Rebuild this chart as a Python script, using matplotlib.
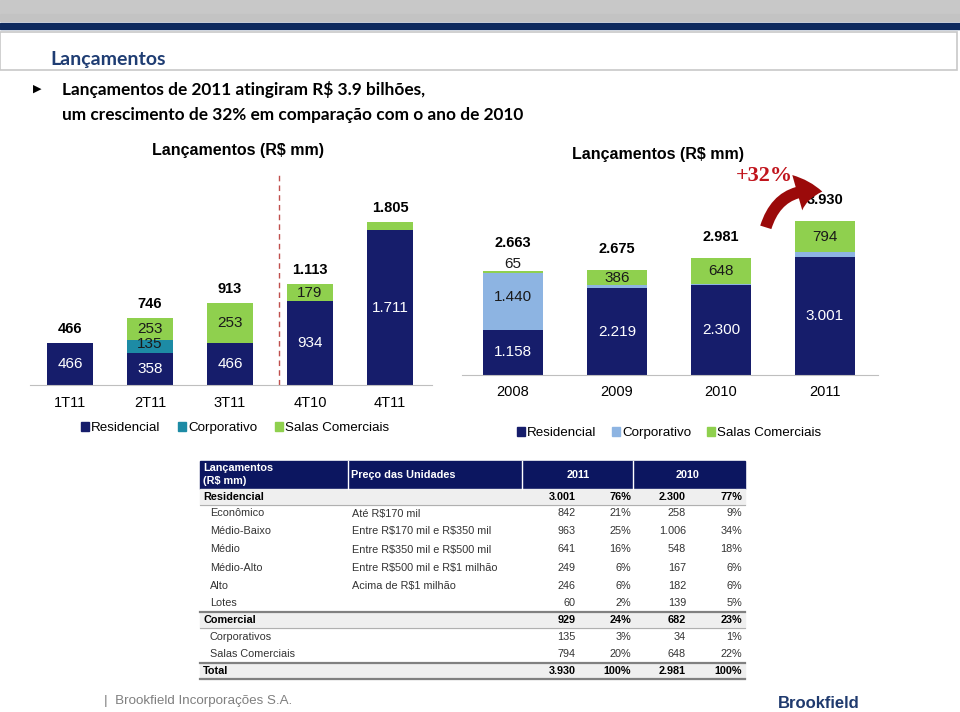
import matplotlib
matplotlib.use("Agg")
import matplotlib.pyplot as plt
from matplotlib.patches import Rectangle, Patch, FancyArrowPatch
from matplotlib.lines import Line2D

# ---- data ----
q_cats = ["1T11", "2T11", "3T11", "4T10", "4T11"]
q_res = [466, 358, 466, 934, 1711]
q_corp = [0, 135, 0, 0, 0]
q_salas = [0, 253, 447, 179, 94]          # bar heights as drawn
q_salas_lbl = ["", "253", "253", "179", ""]  # labels as printed
q_total = [466, 746, 913, 1113, 1805]

y_cats = ["2008", "2009", "2010", "2011"]
y_res = [1158, 2219, 2300, 3001]
y_corp = [1440, 70, 33, 135]
y_salas = [65, 386, 648, 794]
y_total = [2663, 2675, 2981, 3930]

tab_rows = ["Residencial", "Econômico", "Médio-Baixo", "Médio", "Médio-Alto", "Alto",
            "Lotes", "Comercial", "Corporativos", "Salas Comerciais", "Total"]
tab_price = ["", "Até R$170 mil", "Entre R$170 mil e R$350 mil", "Entre R$350 mil e R$500 mil",
             "Entre R$500 mil e R$1 milhão", "Acima de R$1 milhão", "", "", "", "", ""]
tab_v11 = ["3.001", "842", "963", "641", "249", "246", "60", "929", "135", "794", "3.930"]
tab_p11 = ["76%", "21%", "25%", "16%", "6%", "6%", "2%", "24%", "3%", "20%", "100%"]
tab_v10 = ["2.300", "258", "1.006", "548", "167", "182", "139", "682", "34", "648", "2.981"]
tab_p10 = ["77%", "9%", "34%", "18%", "6%", "6%", "5%", "23%", "1%", "22%", "100%"]
tab_bold = [True, False, False, False, False, False, False, True, False, False, True]

NAVY = "#161d6b"
TEAL = "#1d8ba5"
LBLUE = "#8db4e2"
GREEN = "#8fd04e"
SANS = "Liberation Sans"

W, H = 960, 712
fig = plt.figure(figsize=(9.6, 7.12), dpi=100)


def fx(x):
    return x / W


def fy(y):
    return 1 - y / H


def fmt(v):
    return f"{v:,}".replace(",", ".")


# ---- slide header ----
fig.add_artist(Rectangle((0, fy(13)), 1, 13 / H, color="#c8c8c8", transform=fig.transFigure))
fig.add_artist(Rectangle((0, fy(21)), 1, 7 / H, color="#c3c3c3", transform=fig.transFigure))
fig.add_artist(Rectangle((0, fy(29)), 1, 6 / H, color="#0e2a5e", transform=fig.transFigure))
fig.add_artist(Rectangle((0, fy(70)), fx(957), 38 / H, fill=False, ec="#c8c8c8", lw=1.2,
                         transform=fig.transFigure))
fig.text(fx(50), fy(59), "Lançamentos", fontsize=14, fontweight="bold", color="#1f3d73",
         family="Lato", va="center")
fig.text(fx(33), fy(89), "\u25B6", fontsize=8, color="black", va="center", family="DejaVu Sans")
fig.text(fx(62), fy(89), "Lançamentos de 2011 atingiram R$ 3.9 bilhões,", fontsize=12.4,
         fontweight="bold", family="Lato", va="center", parse_math=False)
fig.text(fx(62), fy(115), "um crescimento de 32% em comparação com o ano de 2010", fontsize=12.4,
         fontweight="bold", family="Lato", va="center", parse_math=False)

# ---- left chart: quarters ----
pxu1 = 0.0903
ax1 = fig.add_axes([fx(30), fy(385), (432 - 30) / W, (385 - 165) / H])
x1 = list(range(len(q_cats)))
bw = 0.575
ax1.bar(x1, q_res, bw, color=NAVY)
b2 = [r for r in q_res]
ax1.bar(x1, q_corp, bw, bottom=b2, color=TEAL)
b3 = [r + c for r, c in zip(q_res, q_corp)]
ax1.bar(x1, q_salas, bw, bottom=b3, color=GREEN)
ax1.set_xlim(-0.5, 4.525)
ax1.set_ylim(0, 220 / pxu1)
for i in x1:
    ax1.text(i, q_res[i] / 2, fmt(q_res[i]), ha="center", va="center", color="white",
             fontsize=11, family=SANS)
    if q_corp[i]:
        ax1.text(i, b2[i] + q_corp[i] / 2 + 3 / pxu1, fmt(q_corp[i]), ha="center", va="center",
                 color="#1a1a1a", fontsize=11, family=SANS)
    if q_salas_lbl[i]:
        ax1.text(i, b3[i] + q_salas[i] / 2, q_salas_lbl[i], ha="center", va="center",
                 color="#1a1a1a", fontsize=11, family=SANS)
    top = b3[i] + q_salas[i]
    ax1.text(i, top + 14 / pxu1, fmt(q_total[i]), ha="center", va="center", color="black",
             fontsize=10.5, fontweight="bold", family=SANS)
ax1.plot([2.61, 2.61], [0, 213 / pxu1], ls=(0, (4, 3)), color="#c0504d", lw=1, clip_on=False)
ax1.set_xticks(x1, q_cats, fontsize=10.5, family=SANS)
ax1.set_yticks([])
ax1.tick_params(axis="x", length=0, pad=8)
for s in ["top", "left", "right"]:
    ax1.spines[s].set_visible(False)
ax1.spines["bottom"].set_color("#bfbfbf")
fig.text(fx(238), fy(151), "Lançamentos (R$ mm)", ha="center", va="center", fontsize=11.5,
         fontweight="bold", family=SANS, parse_math=False)
fig.legend([Patch(color=NAVY), Patch(color=TEAL), Patch(color=GREEN)],
           ["Residencial", "Corporativo", "Salas Comerciais"], loc="center",
           bbox_to_anchor=(fx(235), fy(428)), ncol=3, frameon=False, handlelength=0.6,
           handleheight=0.6, handletextpad=0.15, columnspacing=1.3,
           prop={"family": SANS, "size": 9.6})

# ---- right chart: years ----
pxu2 = 0.0392
ax2 = fig.add_axes([fx(462), fy(375), (878 - 462) / W, (375 - 165) / H])
x2 = list(range(len(y_cats)))
bw2 = 0.577
ax2.bar(x2, y_res, bw2, color=NAVY)
c2 = [r for r in y_res]
ax2.bar(x2, y_corp, bw2, bottom=c2, color=LBLUE)
c3 = [r + c for r, c in zip(y_res, y_corp)]
ax2.bar(x2, y_salas, bw2, bottom=c3, color=GREEN)
ax2.set_xlim(-0.49, 3.51)
ax2.set_ylim(0, 210 / pxu2)
for i in x2:
    ax2.text(i, y_res[i] / 2, fmt(y_res[i]), ha="center", va="center", color="white",
             fontsize=11, family=SANS)
    if y_corp[i] > 500:
        ax2.text(i, c2[i] + y_corp[i] / 2 + 4 / pxu2, fmt(y_corp[i]), ha="center", va="center",
                 color="#1a1a1a", fontsize=11, family=SANS)
    top = c3[i] + y_salas[i]
    if y_salas[i] < 150:
        ax2.text(i, top + 7 / pxu2, fmt(y_salas[i]), ha="center", va="center",
                 color="#1a1a1a", fontsize=11, family=SANS)
        off = 28
    else:
        ax2.text(i, c3[i] + y_salas[i] / 2, fmt(y_salas[i]), ha="center", va="center",
                 color="#1a1a1a", fontsize=11, family=SANS)
        off = 21
    ax2.text(i, top + off / pxu2, fmt(y_total[i]), ha="center", va="center", color="black",
             fontsize=10.5, fontweight="bold", family=SANS)
ax2.set_xticks(x2, y_cats, fontsize=10.5, family=SANS)
ax2.set_yticks([])
ax2.tick_params(axis="x", length=0, pad=7)
for s in ["top", "left", "right"]:
    ax2.spines[s].set_visible(False)
ax2.spines["bottom"].set_color("#bfbfbf")
fig.text(fx(658), fy(154), "Lançamentos (R$ mm)", ha="center", va="center", fontsize=11.5,
         fontweight="bold", family=SANS, parse_math=False)
fig.legend([Patch(color=NAVY), Patch(color=LBLUE), Patch(color=GREEN)],
           ["Residencial", "Corporativo", "Salas Comerciais"], loc="center",
           bbox_to_anchor=(fx(669), fy(433)), ncol=3, frameon=False, handlelength=0.6,
           handleheight=0.6, handletextpad=0.15, columnspacing=1.2,
           prop={"family": SANS, "size": 9.6})

# growth arrow
fig.text(fx(764), fy(176), "+32%", ha="center", va="center", fontsize=16, fontweight="bold",
         color="#c0141c", family="Liberation Serif")
fig.add_artist(FancyArrowPatch((fx(765), fy(230)), (fx(825), fy(192)), transform=fig.transFigure,
                               connectionstyle="arc3,rad=-0.45",
                               arrowstyle="simple,head_width=2.2,head_length=1.5,tail_width=0.7",
                               mutation_scale=12, color="#9b0a0a", lw=0))

# ---- table ----
TX0, TX1 = 200, 745
fig.add_artist(Rectangle((fx(TX0), fy(489)), (TX1 - TX0) / W, 28 / H, color="#0c1660",
                         transform=fig.transFigure))
for xd in [348, 522, 633]:
    fig.add_artist(Line2D([fx(xd), fx(xd)], [fy(489), fy(461)], color="white", lw=1,
                          transform=fig.transFigure))
hk = dict(color="white", fontsize=7.8, fontweight="bold", family=SANS, va="center",
          parse_math=False)
fig.text(fx(203), fy(468), "Lançamentos", **hk)
fig.text(fx(203), fy(481), "(R$ mm)", **hk)
fig.text(fx(351), fy(475), "Preço das Unidades", **hk)
fig.text(fx(578), fy(475), "2011", ha="center", **hk)
fig.text(fx(688), fy(475), "2010", ha="center", **hk)

row_h = [16, 17, 18, 19, 18, 18, 17, 16, 17, 18, 16]
y = 489
for i, lab in enumerate(tab_rows):
    h = row_h[i]
    yc = y + h / 2
    bold = tab_bold[i]
    if bold:
        fig.add_artist(Rectangle((fx(TX0), fy(y + h)), (TX1 - TX0) / W, h / H, color="#efefef",
                                 transform=fig.transFigure))
        if i > 0:
            fig.add_artist(Line2D([fx(TX0), fx(TX1)], [fy(y), fy(y)], color="#808080", lw=1.6,
                                  transform=fig.transFigure))
        fig.add_artist(Line2D([fx(TX0), fx(TX1)], [fy(y + h), fy(y + h)],
                              color="#808080" if lab == "Total" else "#b0b0b0",
                              lw=1.6 if lab == "Total" else 0.8, transform=fig.transFigure))
    tk = dict(fontsize=7.8, family=SANS, va="center", parse_math=False,
              fontweight="bold" if bold else "normal",
              color="black" if bold else "#333333")
    fig.text(fx(203 if bold else 210), fy(yc), lab, **tk)
    if tab_price[i]:
        fig.text(fx(352), fy(yc), tab_price[i], **tk)
    fig.text(fx(576), fy(yc), tab_v11[i], ha="right", **tk)
    fig.text(fx(631), fy(yc), tab_p11[i], ha="right", **tk)
    fig.text(fx(686), fy(yc), tab_v10[i], ha="right", **tk)
    fig.text(fx(742), fy(yc), tab_p10[i], ha="right", **tk)
    y += h

# ---- footer ----
fig.text(fx(104), fy(701), "|  Brookfield Incorporações S.A.", fontsize=9.6, color="#7f7f7f",
         family=SANS, va="center")
fig.text(fx(819), fy(703), "Brookfield", fontsize=12, fontweight="bold", color="#1f3a6e",
         family=SANS, va="center", ha="center")

fig.savefig("out.png", dpi=100)
